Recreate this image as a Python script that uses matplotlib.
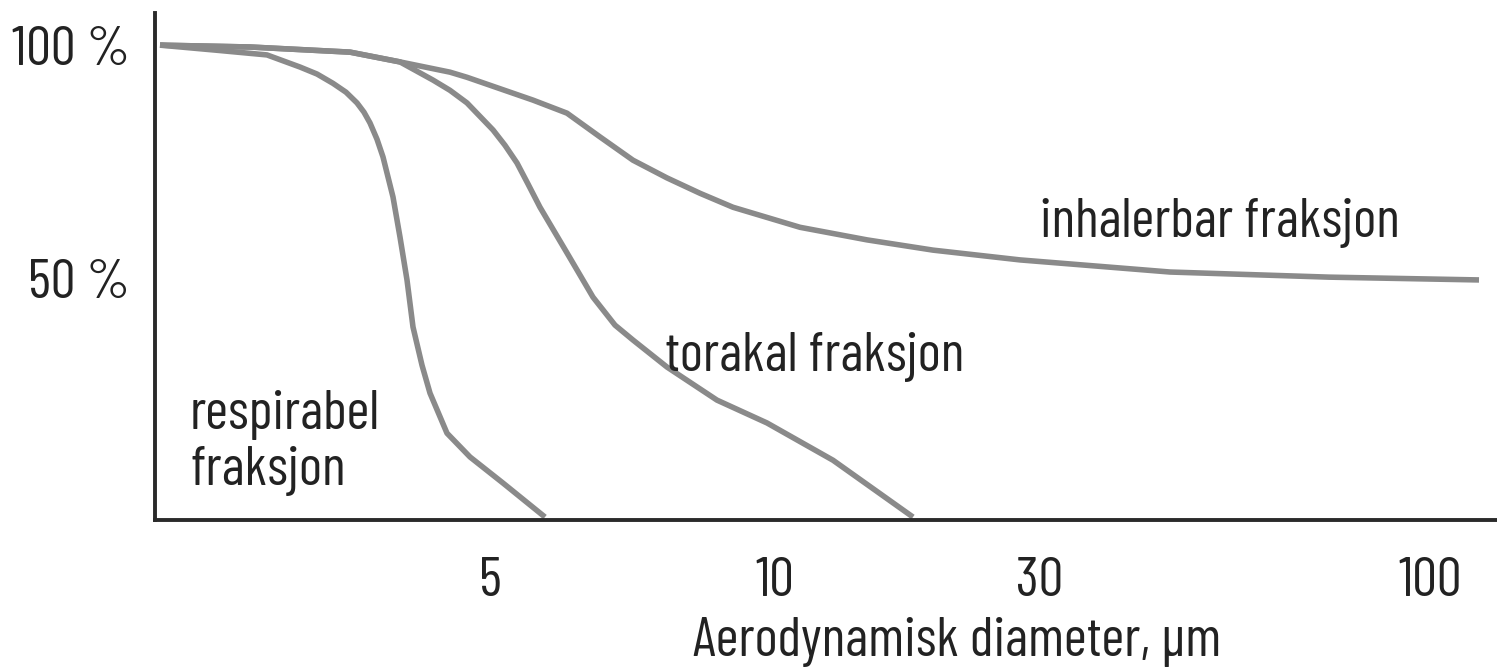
import matplotlib
matplotlib.use("Agg")
import matplotlib.pyplot as plt

plt.rcParams['font.family'] = ['Barlow Condensed', 'Roboto Condensed', 'DejaVu Sans']

# x er plassering langs aksen (vilkaarlig skala), y er andel i prosent
inh_x = [0.05, 0.95, 1.95, 2.45, 2.95, 3.12, 3.78, 4.12, 4.45, 4.78, 5.12, 5.45, 5.78, 6.45, 7.12, 7.78, 8.65, 10.15, 11.74, 13.24]
inh_y = [100.0, 99.6, 98.5, 96.4, 94.2, 93.1, 88.2, 85.4, 80.3, 75.3, 71.5, 68.2, 65.2, 60.9, 58.2, 56.0, 53.9, 51.3, 50.2, 49.6]

tor_x = [0.05, 0.95, 1.95, 2.45, 2.78, 2.95, 3.12, 3.38, 3.50, 3.62, 3.73, 3.85, 4.12, 4.38, 4.60, 4.78, 5.12, 5.62, 6.12, 6.78, 7.58]
tor_y = [100.0, 99.6, 98.5, 96.4, 92.5, 90.3, 87.6, 81.8, 78.5, 74.7, 70.2, 65.2, 55.4, 45.9, 39.9, 36.7, 30.9, 23.8, 18.9, 10.9, -1.3]

resp_x = [0.05, 0.62, 1.12, 1.45, 1.62, 1.78, 1.91, 2.02, 2.09, 2.15, 2.22, 2.28, 2.38, 2.45, 2.52, 2.58, 2.67, 2.75, 2.92, 3.15, 3.48, 3.90]
resp_y = [100.0, 98.9, 97.9, 95.3, 93.8, 91.8, 89.9, 87.6, 85.6, 83.3, 79.8, 76.0, 67.4, 58.8, 49.6, 39.5, 31.3, 25.3, 16.7, 11.6, 6.0, -1.3]

xtick_pos = [3.35, 6.2, 8.85, 12.75]
xtick_lab = ['5', '10', '30', '100']
ytick_pos = [100, 50]
ytick_lab = ['100 %', '50 %']

curve_col = '#8a8a8a'
txt_col = '#222222'
fs = 40

fig = plt.figure(figsize=(14.97, 6.70), dpi=100)
ax = fig.add_axes([155/1497, 150/670, 1342/1497, 507/670])

for xs, ys in [(inh_x, inh_y), (tor_x, tor_y), (resp_x, resp_y)]:
    ax.plot(xs, ys, color=curve_col, lw=4.0, solid_joinstyle='round',
            solid_capstyle='butt', zorder=2)

ax.set_xlim(0, 13.42)
ax.set_ylim(-1.93, 106.9)

for s in ['top', 'right']:
    ax.spines[s].set_visible(False)
for s in ['left', 'bottom']:
    ax.spines[s].set_color('#2a2a2a')
    ax.spines[s].set_linewidth(2.8)
    ax.spines[s].set_zorder(3)

ax.set_xticks(xtick_pos)
ax.set_xticklabels(xtick_lab)
ax.set_yticks(ytick_pos)
ax.set_yticklabels(ytick_lab)
ax.tick_params(axis='x', length=0, pad=27, labelsize=fs, labelcolor=txt_col)
ax.tick_params(axis='y', length=0, pad=18, labelsize=fs, labelcolor=txt_col)

ax.set_xlabel('Aerodynamisk diameter, µm', fontsize=fs, color=txt_col, va='center')
ax.xaxis.set_label_coords((957-155)/1342, (520-642)/507)

ax.text(8.85, 61.9, 'inhalerbar fraksjon', fontsize=fs, color=txt_col, va='center', ha='left')
ax.text(5.1, 33.0, 'torakal fraksjon', fontsize=fs, color=txt_col, va='center', ha='left')
ax.text(0.35, 14.6, 'respirabel\nfraksjon', fontsize=fs, color=txt_col, va='center', ha='left',
        linespacing=1.15)

fig.savefig('out.png', dpi=100, facecolor='white')
